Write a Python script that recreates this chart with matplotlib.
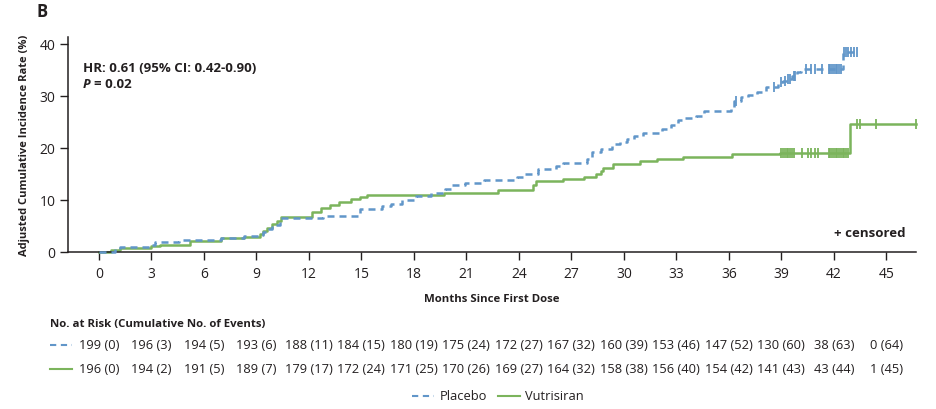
import matplotlib
matplotlib.use("Agg")
import matplotlib.pyplot as plt
from matplotlib.transforms import blended_transform_factory
from matplotlib.lines import Line2D

plt.rcParams['font.family'] = ['Open Sans', 'DejaVu Sans']

# ---- data ----
placebo_t = [0, 0.9, 1.2, 3.0, 3.2, 4.6, 7.0, 8.3, 9.2, 9.4, 9.6, 9.9, 10.35, 12.8, 14.9, 16.2, 16.7, 17.3,
             18.1, 19.0, 19.8, 20.2, 20.9, 22.0, 23.9, 24.3, 25.1, 26.1, 26.5, 27.9, 28.2, 28.7, 29.3,
             29.8, 30.2, 30.6, 31.1, 32.2, 32.7, 33.1, 33.3, 34.1, 34.6, 36.1, 36.3, 36.7, 37.1, 37.6,
             38.1, 38.8, 39.1, 39.3, 39.6, 39.9, 40.1, 42.5]
placebo_v = [0, 0.6, 1.0, 1.3, 1.9, 2.4, 2.6, 3.0, 3.3, 3.8, 4.4, 5.1, 6.5, 7.0, 8.3, 8.8, 9.2, 9.9,
             10.8, 11.3, 12.1, 12.8, 13.3, 13.9, 14.4, 15.0, 16.0, 16.5, 17.1, 17.9, 19.2, 19.8, 20.8,
             21.1, 21.7, 22.3, 22.9, 23.7, 24.3, 25.3, 25.7, 26.2, 27.0, 27.8, 29.1, 29.7, 30.2, 30.8,
             31.7, 32.6, 32.9, 33.3, 33.9, 34.5, 35.1, 38.5]
placebo_end = 43.3
placebo_cens = [36.4, 38.6, 39.0, 39.2, 39.4, 39.5, 39.7, 39.8, 40.4, 40.7, 40.9, 41.3, 41.7, 41.8, 41.9,
                42.0, 42.1, 42.2, 42.3, 42.4, 42.6, 42.7, 42.8, 43.0, 43.15, 43.3]

vutri_t = [0, 0.7, 1.2, 3.0, 3.5, 5.2, 7.0, 8.3, 9.2, 9.4, 9.6, 9.9, 10.2, 10.4, 12.2, 12.7, 13.2, 13.7,
           14.4, 14.9, 15.3, 19.7, 22.8, 24.8, 25.0, 26.5, 27.7, 28.4, 28.7, 28.8, 29.4, 30.9, 31.9,
           33.4, 36.2, 38.9, 42.9]
vutri_v = [0, 0.4, 0.8, 1.2, 1.4, 2.2, 2.6, 2.8, 3.5, 4.1, 4.7, 5.4, 6.0, 6.7, 7.6, 8.5, 9.1, 9.6,
           10.1, 10.6, 11.0, 11.4, 11.9, 12.8, 13.6, 14.0, 14.5, 15.0, 15.6, 16.2, 16.9, 17.4, 17.8,
           18.3, 18.8, 19.1, 24.5]
vutri_end = 46.7
vutri_cens = [39.0, 39.1, 39.2, 39.3, 39.4, 39.5, 39.6, 39.7, 40.2, 40.5, 40.7, 40.9, 41.1, 41.7, 41.8,
              41.9, 42.0, 42.1, 42.2, 42.3, 42.4, 42.5, 42.6, 42.7, 42.8, 43.3, 43.5, 44.4, 46.7]

risk_times = [0, 3, 6, 9, 12, 15, 18, 21, 24, 27, 30, 33, 36, 39, 42, 45]
placebo_risk = ["199 (0)", "196 (3)", "194 (5)", "193 (6)", "188 (11)", "184 (15)", "180 (19)", "175 (24)",
                "172 (27)", "167 (32)", "160 (39)", "153 (46)", "147 (52)", "130 (60)", "38 (63)", "0 (64)"]
vutri_risk = ["196 (0)", "194 (2)", "191 (5)", "189 (7)", "179 (17)", "172 (24)", "171 (25)", "170 (26)",
              "169 (27)", "164 (32)", "158 (38)", "156 (40)", "154 (42)", "141 (43)", "43 (44)", "1 (45)"]
yticks = [0, 10, 20, 30, 40]

BLUE = '#6196C9'
GREEN = '#7BB45C'
TXT = '#231F20'

fig = plt.figure(figsize=(9.36, 4.10), dpi=100)
ax = fig.add_axes([68/936, 1-253/410, (916-68)/936, (253-38)/410])


def value_at(ts, vs, x):
    v = vs[0]
    for t, val in zip(ts, vs):
        if t <= x:
            v = val
    return v


ax.step(placebo_t + [placebo_end], placebo_v + [placebo_v[-1]], where='post', color=BLUE,
        lw=1.8, dashes=(2.8, 2.0), clip_on=False, zorder=3)
ax.step(vutri_t + [vutri_end], vutri_v + [vutri_v[-1]], where='post', color=GREEN,
        lw=1.8, clip_on=False, zorder=2)
ax.plot(placebo_cens, [value_at(placebo_t, placebo_v, c) for c in placebo_cens], ls='none',
        marker='|', ms=7, mew=1.3, color=BLUE, clip_on=False, zorder=3)
ax.plot(vutri_cens, [value_at(vutri_t, vutri_v, c) for c in vutri_cens], ls='none',
        marker='|', ms=7, mew=1.3, color=GREEN, clip_on=False, zorder=2)

ax.set_xlim(-1.77, 46.7)
ax.set_ylim(0, 41.3)
ax.set_xticks(risk_times)
ax.set_yticks(yticks)
ax.tick_params(axis='both', direction='out', length=6, width=1, colors=TXT, labelsize=10, pad=3)
ax.tick_params(axis='x', pad=4)
for s in ['top', 'right']:
    ax.spines[s].set_visible(False)
for s in ['left', 'bottom']:
    ax.spines[s].set_color(TXT)
    ax.spines[s].set_linewidth(1.1)

ax.set_xlabel('Months Since First Dose', fontsize=8.2, fontweight='bold', color=TXT, labelpad=9)
ax.set_ylabel('Adjusted Cumulative Incidence Rate (%)', fontsize=8.0, fontweight='bold', color=TXT,
              labelpad=7)

fig.text(37/936, 1-12/410, 'B', fontsize=12, fontweight='bold', color=TXT, va='center', ha='left')
fig.text(83/936, 1-69/410, 'HR: 0.61 (95% CI: 0.42-0.90)', fontsize=9.5, fontweight='bold', color=TXT,
         va='center', ha='left')
fig.text(83/936, 1-85/410, 'P', fontsize=9.5, fontweight='bold', style='italic', color=TXT,
         va='center', ha='left')
fig.text(94/936, 1-85/410, '= 0.02', fontsize=9.5, fontweight='bold', color=TXT, va='center', ha='left')
fig.text(906/936, 1-234/410, '+ censored', fontsize=9.5, fontweight='bold', color=TXT, va='center',
         ha='right')

# risk table
tr = blended_transform_factory(ax.transData, fig.transFigure)
fig.text(50/936, 1-324/410, 'No. at Risk (Cumulative No. of Events)', fontsize=8.2, fontweight='bold',
         color=TXT, va='center', ha='left')
for t, lab in zip(risk_times, placebo_risk):
    fig.text(t, 1-346/410, lab, transform=tr, fontsize=9.3, color=TXT, va='center', ha='center')
for t, lab in zip(risk_times, vutri_risk):
    fig.text(t, 1-370/410, lab, transform=tr, fontsize=9.3, color=TXT, va='center', ha='center')
fig.add_artist(Line2D([50/936, 72/936], [1-346/410, 1-346/410], color=BLUE, lw=1.5, dashes=(3, 2.2)))
fig.add_artist(Line2D([50/936, 72/936], [1-370/410, 1-370/410], color=GREEN, lw=1.5))

# legend
fig.add_artist(Line2D([412/936, 434/936], [1-397/410, 1-397/410], color=BLUE, lw=1.5, dashes=(3, 2.2)))
fig.text(440/936, 1-397/410, 'Placebo', fontsize=9.3, color=TXT, va='center', ha='left')
fig.add_artist(Line2D([498/936, 520/936], [1-397/410, 1-397/410], color=GREEN, lw=1.5))
fig.text(525/936, 1-397/410, 'Vutrisiran', fontsize=9.3, color=TXT, va='center', ha='left')

fig.savefig('out.png', dpi=100)
